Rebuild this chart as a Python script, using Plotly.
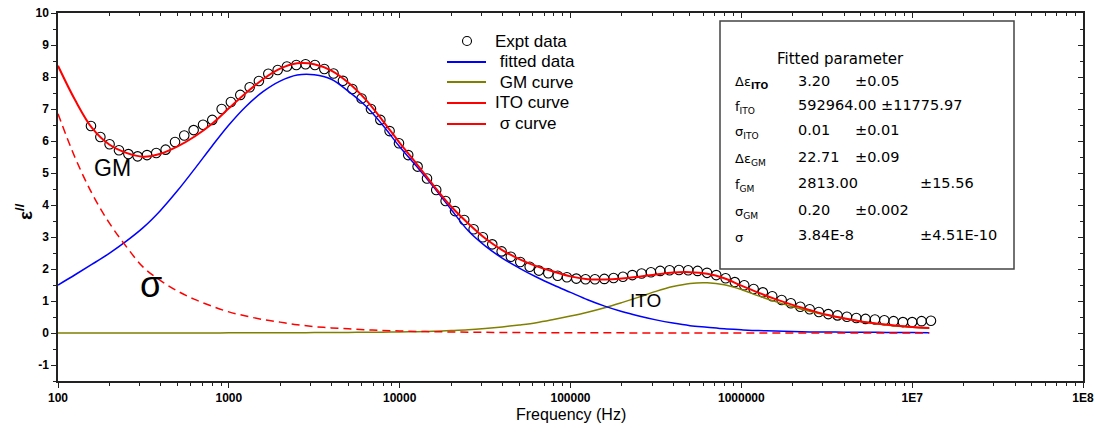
import plotly.graph_objects as go

# ---------------- data ----------------
expt_log_freq = [
    2.193, 2.248, 2.302, 2.357, 2.412, 2.466, 2.521, 2.575, 2.630, 2.685,
    2.739, 2.794, 2.849, 2.903, 2.958, 3.012, 3.067, 3.122, 3.176, 3.231,
    3.286, 3.340, 3.395, 3.449, 3.504, 3.559, 3.613, 3.668, 3.723, 3.777,
    3.832, 3.887, 3.941, 3.996, 4.050, 4.105, 4.160, 4.214, 4.269, 4.324,
    4.378, 4.433, 4.487, 4.542, 4.597, 4.651, 4.706, 4.761, 4.815, 4.870,
    4.925, 4.979, 5.034, 5.088, 5.143, 5.198, 5.252, 5.307, 5.362, 5.416,
    5.471, 5.525, 5.580, 5.635, 5.689, 5.744, 5.799, 5.853, 5.908, 5.962,
    6.017, 6.072, 6.126, 6.181, 6.236, 6.290, 6.345, 6.400, 6.454, 6.509,
    6.563, 6.618, 6.673, 6.727, 6.782, 6.837, 6.891, 6.946, 7.000, 7.055,
    7.110]
expt_eps = [
    6.47, 6.125, 5.90, 5.71, 5.59, 5.52, 5.56, 5.625, 5.73, 5.97,
    6.17, 6.34, 6.51, 6.66, 7.00, 7.22, 7.44, 7.68, 7.875, 8.10,
    8.22, 8.33, 8.375, 8.40, 8.375, 8.25, 8.11, 7.88, 7.625, 7.33,
    7.00, 6.66, 6.31, 5.93, 5.56, 5.20, 4.83, 4.47, 4.125, 3.81,
    3.53, 3.24, 2.99, 2.77, 2.55, 2.385, 2.22, 2.07, 1.95, 1.865,
    1.79, 1.74, 1.70, 1.68, 1.68, 1.69, 1.72, 1.76, 1.81, 1.86,
    1.90, 1.94, 1.96, 1.97, 1.96, 1.94, 1.88, 1.81, 1.71, 1.59,
    1.49, 1.375, 1.27, 1.15, 1.03, 0.93, 0.82, 0.74, 0.656, 0.59,
    0.55, 0.51, 0.47, 0.44, 0.42, 0.40, 0.37, 0.34, 0.34, 0.37,
    0.385]

curve_log_freq = [
    2.0, 2.1, 2.2, 2.3, 2.4, 2.5, 2.6, 2.7, 2.8, 2.9,
    3.0, 3.1, 3.2, 3.3, 3.4, 3.5, 3.6, 3.7, 3.8, 3.9,
    4.0, 4.1, 4.2, 4.3, 4.4, 4.5, 4.6, 4.7, 4.8, 4.9,
    5.0, 5.1, 5.2, 5.3, 5.4, 5.5, 5.6, 5.7, 5.8, 5.9,
    6.0, 6.1, 6.2, 6.3, 6.4, 6.5, 6.6, 6.7, 6.8, 6.9,
    7.0, 7.1]
fitted_eps = [
    1.50, 1.82, 2.15, 2.49, 2.87, 3.30, 3.83, 4.45, 5.13, 5.83,
    6.50, 7.08, 7.54, 7.87, 8.06, 8.07, 7.93, 7.55, 7.10, 6.50,
    5.82, 5.20, 4.55, 3.87, 3.20, 2.72, 2.34, 2.03, 1.75, 1.50,
    1.27, 1.04, 0.84, 0.67, 0.53, 0.41, 0.31, 0.23, 0.18, 0.13,
    0.10, 0.075, 0.06, 0.045, 0.035, 0.03, 0.025, 0.02, 0.02, 0.015,
    0.015, 0.01]
gm_curve_eps = [
    0.0, 0.0, 0.0, 0.0, 0.0, 0.001, 0.001, 0.002, 0.002, 0.003,
    0.004, 0.005, 0.006, 0.008, 0.01, 0.012, 0.015, 0.018, 0.022, 0.027,
    0.033, 0.04, 0.055, 0.075, 0.10, 0.14, 0.19, 0.25, 0.32, 0.42,
    0.53, 0.65, 0.79, 0.95, 1.12, 1.30, 1.45, 1.55, 1.57, 1.51,
    1.36, 1.16, 0.98, 0.82, 0.68, 0.56, 0.45, 0.36, 0.28, 0.22,
    0.18, 0.15]
ito_curve_eps = [
    8.35, 7.28, 6.40, 5.89, 5.63, 5.51, 5.60, 5.83, 6.14, 6.53,
    7.02, 7.50, 7.93, 8.26, 8.43, 8.40, 8.20, 7.82, 7.30, 6.64,
    5.94, 5.28, 4.60, 3.96, 3.43, 2.96, 2.59, 2.31, 2.09, 1.92,
    1.77, 1.68, 1.67, 1.70, 1.76, 1.83, 1.89, 1.90, 1.85, 1.71,
    1.48, 1.26, 1.06, 0.88, 0.72, 0.57, 0.46, 0.36, 0.29, 0.235,
    0.19, 0.16]
sigma_curve_eps = [
    6.85, 5.48, 4.35, 3.44, 2.70, 2.05, 1.64, 1.31, 1.05, 0.84,
    0.66, 0.53, 0.42, 0.34, 0.26, 0.20, 0.16, 0.13, 0.10, 0.08,
    0.065, 0.05, 0.04, 0.033, 0.026, 0.02, 0.016, 0.013, 0.01, 0.008,
    0.007, 0.006, 0.005, 0.004, 0.003, 0.003, 0.002, 0.002, 0.002, 0.001,
    0.001, 0.001, 0.001, 0.001, 0.0, 0.0, 0.0, 0.0, 0.0, 0.0,
    0.0, 0.0]

x_tick_vals = [1e2, 1e3, 1e4, 1e5, 1e6, 1e7, 1e8]
x_tick_text = ["100", "1000", "10000", "100000", "1000000", "1E7", "1E8"]
y_tick_vals = [-1, 0, 1, 2, 3, 4, 5, 6, 7, 8, 9, 10]
y_tick_text = [str(v) for v in y_tick_vals]

series_names = ["Expt data", " fitted data", " GM curve", "ITO curve", " \u03c3 curve"]

param_title = "Fitted parameter"
param_labels = ["\u0394\u03b5<sub><b>ITO</b></sub>", "f<sub>ITO</sub>", "\u03c3<sub>ITO</sub>",
                "\u0394\u03b5<sub>GM</sub>", "f<sub>GM</sub>", "\u03c3<sub>GM</sub>", "\u03c3"]
param_values = ["3.20", "592964.00 \u00b111775.97", "0.01", "22.71", "2813.00", "0.20", "3.84E-8"]
param_errors = ["\u00b10.05", "", "\u00b10.01", "\u00b10.09", "\u00b115.56", "\u00b10.002", "\u00b14.51E-10"]

# ---------------- layout helpers (pixel -> paper) ----------------
L, R, T, B = 58, 1083, 13, 381
def px(x):
    return (x - L) / (R - L)
def py(y):
    return (B - y) / (B - T)

FONT = "Liberation Sans, Arial, sans-serif"
RED, BLUE, OLIVE = "#ff0000", "#0000ff", "#808000"

expt_freq = [10 ** v for v in expt_log_freq]
curve_freq = [10 ** v for v in curve_log_freq]

fig = go.Figure()
fig.add_trace(go.Scatter(x=expt_freq, y=expt_eps, mode="markers", name=series_names[0],
                         marker=dict(symbol="circle-open", size=9.5, color="black", line=dict(width=1.1)),
                         showlegend=False))
fig.add_trace(go.Scatter(x=curve_freq, y=gm_curve_eps, mode="lines", name=series_names[2],
                         line=dict(color=OLIVE, width=1.5, shape="spline"), showlegend=False))
fig.add_trace(go.Scatter(x=curve_freq, y=fitted_eps, mode="lines", name=series_names[1],
                         line=dict(color=BLUE, width=1.5, shape="spline"), showlegend=False))
fig.add_trace(go.Scatter(x=curve_freq, y=sigma_curve_eps, mode="lines", name=series_names[4],
                         line=dict(color=RED, width=1.5, dash="8px,5px", shape="spline"), showlegend=False))
fig.add_trace(go.Scatter(x=curve_freq, y=ito_curve_eps, mode="lines", name=series_names[3],
                         line=dict(color=RED, width=2, shape="spline"), showlegend=False))
# helper trace so the mirrored (top/right) axes are drawn
fig.add_trace(go.Scatter(x=[1e3], y=[0], xaxis="x2", yaxis="y2", mode="markers",
                         marker=dict(opacity=0), showlegend=False, hoverinfo="skip"))

x_minor = [m * 10 ** d for d in range(2, 8) for m in range(2, 10)]
y_minor = [v + 0.5 for v in [-2] + y_tick_vals][:-1]

axis_common = dict(showgrid=False, zeroline=False, showline=True, linecolor="#222",
                   linewidth=1.5, tickcolor="#222", tickwidth=1.2, automargin=False)

fig.update_layout(
    width=1098, height=434,
    margin=dict(l=L, r=1098 - R, t=T, b=434 - B, autoexpand=False),
    paper_bgcolor="white", plot_bgcolor="white",
    font=dict(family=FONT, color="black"),
    showlegend=False,
    xaxis=dict(type="log", range=[2, 8], tickmode="array", tickvals=x_tick_vals, ticktext=x_tick_text,
               ticks="outside", ticklen=5,
               tickfont=dict(size=12, weight="bold", family=FONT),
               minor=dict(tickmode="array", tickvals=x_minor, ticks="outside", ticklen=3,
                          tickcolor="#222", showgrid=False),
               **axis_common),
    yaxis=dict(range=[-1.5, 10], tickmode="array", tickvals=y_tick_vals, ticktext=y_tick_text,
               ticks="outside", ticklen=5,
               tickfont=dict(size=12, weight="bold", family=FONT),
               minor=dict(tickmode="array", tickvals=y_minor, ticks="outside", ticklen=3,
                          tickcolor="#222", showgrid=False),
               **axis_common),
    xaxis2=dict(type="log", range=[2, 8], overlaying="x", side="top", anchor="y",
                tickmode="array", tickvals=x_tick_vals, showticklabels=False,
                ticks="inside", ticklen=5,
                minor=dict(tickmode="array", tickvals=x_minor, ticks="inside", ticklen=3,
                           tickcolor="#222", showgrid=False),
                **axis_common),
    yaxis2=dict(range=[-1.5, 10], overlaying="y", side="right", anchor="x",
                tickmode="array", tickvals=y_tick_vals, showticklabels=False,
                ticks="inside", ticklen=5,
                minor=dict(tickmode="array", tickvals=y_minor, ticks="inside", ticklen=3,
                           tickcolor="#222", showgrid=False),
                **axis_common),
)

shapes = []
annotations = []

# legend (drawn manually)
leg_line_x0, leg_line_x1, leg_text_x = 447, 486, 493
leg_rows = [41, 62, 82, 103, 124]
leg_colors = [None, BLUE, OLIVE, RED, RED]
shapes.append(dict(type="circle", xref="paper", yref="paper", xsizemode="pixel", ysizemode="pixel",
                   xanchor=px(467), yanchor=py(leg_rows[0]), x0=-4.5, x1=4.5, y0=-4.5, y1=4.5,
                   line=dict(color="black", width=1.1)))
for i in range(1, 5):
    shapes.append(dict(type="line", xref="paper", yref="paper",
                       x0=px(leg_line_x0), x1=px(leg_line_x1), y0=py(leg_rows[i]), y1=py(leg_rows[i]),
                       line=dict(color=leg_colors[i], width=1.8)))
for i, name in enumerate(series_names):
    annotations.append(dict(text=name, xref="paper", yref="paper", x=px(leg_text_x), y=py(leg_rows[i]),
                            xanchor="left", yanchor="middle", showarrow=False,
                            font=dict(size=17, family=FONT, color="black")))

# parameter box
shapes.append(dict(type="rect", xref="paper", yref="paper", x0=px(720), x1=px(1014),
                   y0=py(269), y1=py(21), line=dict(color="#444", width=1.5), fillcolor="rgba(0,0,0,0)"))
BOXFONT = "DejaVu Sans, Liberation Sans, sans-serif"
annotations.append(dict(text=param_title, xref="paper", yref="paper", x=px(775), y=py(59),
                        xanchor="left", yanchor="middle", showarrow=False,
                        font=dict(size=15, family=BOXFONT, color="black")))
row_y = [81, 105, 130, 157, 183, 210, 235]
err_x = [853, 853, 853, 853, 918, 853, 918]
for i in range(len(param_labels)):
    annotations.append(dict(text=param_labels[i], xref="paper", yref="paper", x=px(733), y=py(row_y[i] + 2),
                            xanchor="left", yanchor="middle", showarrow=False,
                            font=dict(size=13, family=BOXFONT, color="black")))
    annotations.append(dict(text=param_values[i], xref="paper", yref="paper", x=px(796), y=py(row_y[i]),
                            xanchor="left", yanchor="middle", showarrow=False,
                            font=dict(size=14.5, family=BOXFONT, color="black")))
    if param_errors[i]:
        annotations.append(dict(text=param_errors[i], xref="paper", yref="paper", x=px(err_x[i]),
                                y=py(row_y[i]), xanchor="left", yanchor="middle", showarrow=False,
                                font=dict(size=14.5, family=BOXFONT, color="black")))

# in-plot labels
annotations.append(dict(text="GM", xref="paper", yref="paper", x=px(112), y=py(168),
                        xanchor="center", yanchor="middle",
                        showarrow=False, font=dict(size=23, family=FONT, color="black")))
annotations.append(dict(text="\u03c3", xref="paper", yref="paper", x=px(151), y=py(284),
                        xanchor="center", yanchor="middle",
                        showarrow=False, font=dict(size=36, family=FONT, color="black")))
annotations.append(dict(text="ITO", xref="paper", yref="paper", x=px(645), y=py(300),
                        xanchor="center", yanchor="middle",
                        showarrow=False, font=dict(size=19, family=FONT, color="black")))

# axis titles
annotations.append(dict(text="Frequency (Hz)", xref="paper", yref="paper", x=0.5, y=py(414),
                        xanchor="center", yanchor="middle", showarrow=False,
                        font=dict(size=16, family=FONT, color="black")))
annotations.append(dict(text="<b>\u03b5<sup>//</sup></b>", xref="paper", yref="paper", x=px(24), y=py(212),
                        xanchor="center", yanchor="middle", textangle=-90, showarrow=False,
                        font=dict(size=19, family=FONT, color="black")))

fig.update_layout(shapes=shapes, annotations=annotations)
fig.write_html("out.html")
